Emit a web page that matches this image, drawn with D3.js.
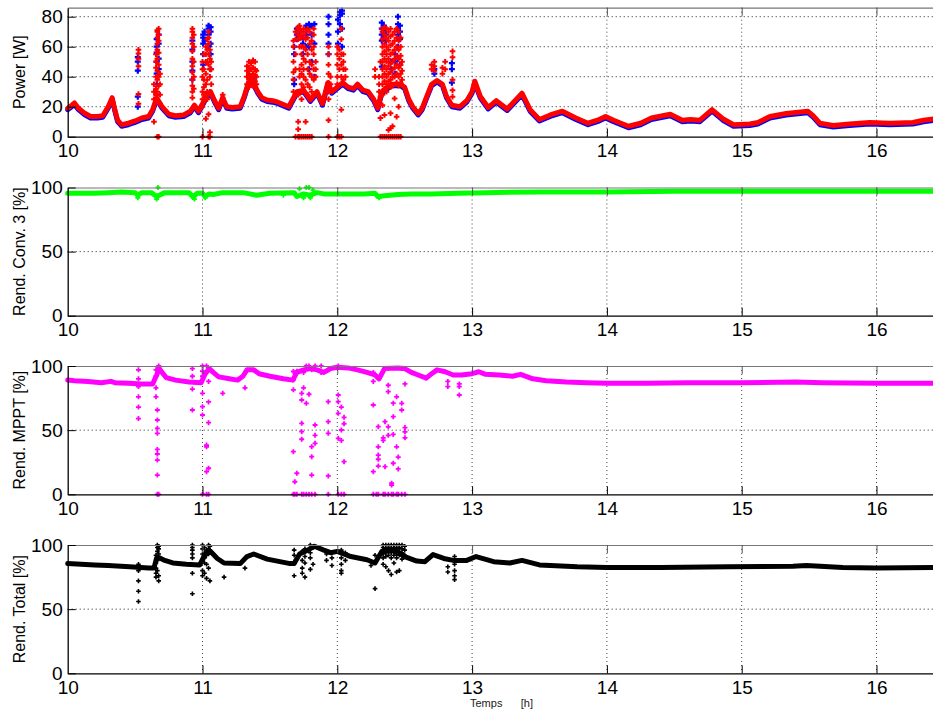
<!DOCTYPE html>
<html><head><meta charset="utf-8">
<script src="https://cdn.jsdelivr.net/npm/d3@7"></script>
<style>
body{margin:0;background:#fff}
svg{display:block}
text{font-family:Arial,"Liberation Sans",Helvetica,sans-serif}
</style>
</head><body>
<svg id="c" width="933" height="714"></svg>
<script>
// ---------------- DATA ----------------
const xTicks = [10, 11, 12, 13, 14, 15, 16];
const powerTicks = [0, 20, 40, 60, 80];
const pctTicks = [0, 50, 100];

const powerTimes = [10.00,10.03,10.05,10.08,10.12,10.17,10.22,10.26,10.30,10.33,10.35,10.37,10.40,10.45,10.50,10.55,10.60,10.63,10.66,10.70,10.75,10.80,10.86,10.91,10.94,10.97,11.00,11.03,11.06,11.09,11.12,11.15,11.18,11.22,11.28,11.31,11.34,11.38,11.41,11.44,11.48,11.52,11.56,11.60,11.64,11.67,11.70,11.75,11.80,11.85,11.89,11.93,11.96,12.00,12.04,12.08,12.12,12.15,12.19,12.23,12.27,12.30,12.33,12.40,12.47,12.50,12.53,12.56,12.60,12.63,12.66,12.70,12.74,12.78,12.81,12.85,12.91,12.96,13.00,13.02,13.06,13.12,13.18,13.26,13.37,13.43,13.50,13.58,13.67,13.77,13.86,13.93,13.99,14.05,14.16,14.25,14.33,14.47,14.56,14.62,14.69,14.78,14.86,14.94,15.06,15.12,15.21,15.33,15.49,15.53,15.58,15.68,15.80,15.95,16.10,16.27,16.35,16.44];
const powerRed = [19,21,22.5,19,16,13.5,13.5,14,20,26,18,11,8,9,10.5,12.5,13.5,18,26,20,15,14,14.5,17,21,17,22,27,30,24,19,26,20,19.5,20,27,36,36,30,26,24.5,24,23,21.5,20,25,30,31,24.5,30,22,36,30,33,36,33,32,35,31,30,25,19,30,35,35,33,25,20,15.5,19,26,35,37.5,35,27,21,20,24,30,37,27,19.5,24,18.5,29,18,11.5,14.5,17,12.5,9,11,13.5,11,7,9,12.5,15,11,11.5,11,18,12,8,8.5,9.5,13.5,15.5,17,14,9,7.5,8.5,9.5,9,9.5,11,12];
const powerBlue = [18,20,21.5,18,15,12.5,12.5,13,19,25,17,10,7,8,9.5,11.5,12.5,17,25,19,14,13,13.5,16,20,16,21,26,29,23,18,25,19,18.5,19,26,35,34.5,29,25,23.5,23,22,20.5,19,24,29,30,23.5,29,21,35,29,32,35,32,31,34,30,29,24,18,29,34,34,32,24,19,14.5,18,25,34,36.5,34,26,20,19,23,29,35.5,26,18.5,23,17.5,28,17,10.5,13.5,16,11.5,8,10,12.5,10,6,8,11.5,14,10,10.5,10,17,11,7,7.5,8.5,12.5,14.5,16,13,8,6.5,7.5,8.5,8,8.5,10,11];

// spike columns: [time, value, value, ...]
const redSpikes = [
  [10.525,58,55.5,52,47,28.5,22],[10.64,10,25,30,35],[10.655,28,32,40,46,50,55],
  [10.665,0,30,38,44,52,58,62,66,70,71],[10.675,0,34,40,48,56,64,68,72],[10.685,22,28,35,42],
  [10.925,72,70,66,62,57,52,47,43,38,34,30,26],[10.935,68,60,50,40,32],
  [11.00,0,20,25,30,40,45,50],[11.01,55,45,38,33,28],[11.025,60,55,50,42,35,28,12],
  [11.035,65,58,50,38,30,25],[11.045,0,15,48,55,62,66,70],[11.055,3,0,30,40,45,52,58],[11.065,35,45,50],
  [11.15,26,28],
  [11.33,35,40,44,47],[11.345,33,38,42,46,50],[11.36,35,40,45,49],[11.375,34,38,42,46,51],[11.39,33,37,41,45,50],[11.40,35,40,44],
  [11.675,30,38,43,50,60,64],[11.69,0,45,55,65,70],[11.71,0,10,5,70,72,73,68,65,28],[11.72,0,72,74,66,60,40,45],
  [11.735,0,70,66,60,55,48,42,35,30,25],[11.75,0,72,68,60,52,45,40,33],[11.765,0,10,70,65,58,50,38],
  [11.78,0,72,66,55,45,35,28],[11.795,0,70,62,50,42,33],[11.81,0,64,58,48,40,30],[11.825,72,68,60,55,45,38],[11.84,50,45,40],
  [11.935,0,11,60,55,48,42,36,30,25],[11.95,40,35],
  [12.00,0,60,55,48,40,35],[12.015,0,58,52,45],[12.03,0,18,72,65,55,48,40],[12.045,45,50,55,38],[12.06,40,45],
  [12.28,45,40],[12.31,35,40,30],[12.32,0,50,26.7,12.4],
  [12.335,0,72,70,65,60,55,50,45,40,35,28,21],[12.35,0,73,68,62,57,52,47,42,37,32,14.5],
  [12.365,0,72,66,60,55,50,45,40,35,30],[12.38,0,4.5,70,64,58,52,47,42,37],
  [12.395,0,5.6,15.6,72,67,61,55,49,43,38,33],[12.41,0,7,68,62,56,50,45,40,34],
  [12.425,0,25.5,70,64,58,52,46,40],[12.44,0,13.3,72,66,60,54,48,42,36],
  [12.455,0,20,70,64,58,52,46,40,34],[12.47,0,66,60,54,48,42,36],[12.48,50,44,38],
  [12.70,45,48],[12.72,47,50,44],[12.78,42,46],[12.80,45,50],[12.855,57,53,38,31,26.7]
];
const blueSpikes = [
  [10.52,53,50,44,26.7,20],[10.66,28,35,42,50,56,60,65],[10.675,45,52,62,68],
  [10.925,64,58,50,44,38],[11.005,68,66,62,55,48],[11.015,70,64],
  [11.045,72,74,68,60],[11.06,73,70,62,55,45],[11.345,36,40],[11.38,35,38],
  [11.68,60,55,38,35],[11.70,72,68,65],[11.72,70,66],[11.745,66,62,55],
  [11.77,72,74,68,60],[11.79,75,73,60,45],[11.81,74,68,50],[11.83,75,62,40],
  [11.935,80,75,68,62,55],[12.005,78,70,62],[12.02,83,81,75],[12.035,84,82,72,60],
  [12.33,76,72,68,64,46.7],[12.345,74,70,66],[12.36,72,68,64],[12.40,45,50],[12.43,50,55,42],
  [12.45,80,75,72,68,60,52],[12.465,74,70,65,48],[12.72,42,45],[12.85,49,45,36]
];

const convTimes = [10.00,10.20,10.30,10.40,10.50,10.52,10.55,10.62,10.66,10.68,10.72,10.90,10.93,10.96,11.00,11.02,11.05,11.08,11.15,11.30,11.35,11.40,11.50,11.68,11.70,11.75,11.80,11.85,11.90,12.00,12.10,12.20,12.28,12.30,12.35,12.45,12.55,12.70,12.90,13.10,13.50,14.00,14.50,15.00,15.50,16.00,16.44];
const convValues = [95.5,95.5,96,96.5,96,94,96,96,93,94,96,96,92.5,95.5,95.5,93,95,94.5,96,96,95,94,95.5,96,93,95,94,96,95,95,95,95,95.5,93,93.5,94.5,95,95,95.5,96,96.5,96.5,97,97,97,97,97];
const convOutliers = [[10.52,92],[10.66,91],[10.67,100],[10.94,91],[11.02,92],[11.60,94],[11.72,99],[11.75,92],[11.77,100],[11.79,100],[11.80,92],[11.82,98],[12.31,92]];

const mpptTimes = [10.00,10.05,10.15,10.25,10.32,10.35,10.45,10.55,10.63,10.66,10.68,10.70,10.73,10.80,10.90,10.99,11.02,11.05,11.08,11.12,11.20,11.26,11.30,11.33,11.38,11.42,11.50,11.60,11.67,11.70,11.75,11.80,11.85,11.90,11.95,12.00,12.08,12.15,12.22,12.28,12.31,12.35,12.45,12.50,12.55,12.60,12.66,12.70,12.74,12.80,12.86,12.92,13.00,13.05,13.10,13.20,13.30,13.36,13.45,13.55,13.70,13.85,14.00,14.30,14.60,15.00,15.40,15.60,16.00,16.44];
const mpptValues = [89,88.5,88,87,88,87,86.5,86,86,93,98,95,91,89,87.5,87,94,98,95,91.5,90,89,92,97,97,94,92,90,89,95,97,98,97,95,98,99,98.5,97,95,93,90,98,98.5,98,95,93,90.5,94,97,95.5,93,93,94,95.5,93.5,93,92,93.5,90,88.5,87.5,87,86.5,86.5,87,87,87.5,87,86.5,86.5];
const mpptOutliers = [
  [10.525,97,90,84,76,68,59],[10.655,97,92,83,76],[10.665,0,65.7,57.9,51.4,47.5,35,31.4,26.7,15],[10.675,0,100,99],
  [10.925,98,92,82,65.7],[11.00,0,100,96,92,78.7,68.3,61.8],[11.03,0,38.4,37,17.6,100,95],[11.045,0,55.8,20.3,88,72],
  [11.15,78.7],[11.315,83],
  [11.674,95.7,89.2,81.4,33.2,0],[11.685,9.8,0],[11.70,16.4,0,96],[11.736,42.9,48.8,55.3,73.5,78.7,0],
  [11.75,83,95,0],[11.77,70.9,100,0],[11.79,100,78,0],[11.81,15,29.3,37.1,0,97],[11.835,39.7,54,46,0,100],
  [11.88,100,95],[11.933,56.6,47.5,14.3,72.2,97,0],[12.007,77.4,72.2,63.1,43.6,0,100],[12.03,68,50.1,42,0],
  [12.05,60,55,25.4,0],[12.267,69.6,17.6,0,95,88],[12.29,0],[12.304,52.7,37,30.6,27.3,22,0],
  [12.341,44,42,0],[12.354,21.5,56.6,0],[12.378,52.6,46,0,85,80],[12.403,7.2,8.6,0],
  [12.415,24.2,46.7,60.5,71,0],[12.44,76,37,0],[12.452,29,19.8,0],[12.478,65.7,70.9,0,98],[12.502,48.7,52,44,86,0],
  [12.82,84,88],[12.905,77.4,84,86]
];

const totalTimes = [10.00,10.10,10.20,10.30,10.46,10.60,10.64,10.66,10.68,10.72,10.78,10.88,10.98,11.02,11.06,11.11,11.16,11.28,11.33,11.38,11.48,11.65,11.68,11.72,11.78,11.83,11.90,11.95,12.00,12.10,12.22,12.28,12.33,12.42,12.50,12.59,12.65,12.71,12.79,12.86,12.96,13.03,13.16,13.28,13.37,13.50,13.78,14.00,14.40,14.90,15.38,15.48,15.75,16.00,16.44];
const totalValues = [85.5,85,84.5,84,83,82,82,90,90,88,86,85,84.5,93,95,89.5,86,85.5,91,93,89,85.5,85.5,93,96,99,96,94,95,91,88.5,86,95,96,91,87.5,87,92.5,89.5,88,88,91,87,86,88,84.5,83,82.5,82.5,83,83.5,84,82.5,82,82.5];
const totalOutliers = [
  [10.525,85,80,72,64,56],[10.655,75,78,82,86,92],[10.665,95,98,100,88,80],[10.675,97,99,93,76,72],
  [10.925,100,98,96,93,90,78,62],[11.00,100,97,93,88,80,76],[11.015,98,94,90,86,78],[11.03,96,92,85,74],
  [11.045,100,97,93,82],[11.055,99,95,72],[11.16,75],[11.315,82],
  [11.68,96,92,87,76],[11.74,95,88,82,78],[11.76,97,91,86,75],[11.80,100,94,90,81],[11.82,98,85],
  [11.92,93,88],[11.96,90,84],[12.03,96,90,85,80,78],[12.06,94,88],[12.25,84],[12.28,92,66],
  [12.34,100,98,96,93,90,85],[12.36,100,97,94,91,83],[12.38,100,98,95,92,80],[12.40,100,97,94,90,77],
  [12.42,100,98,95,92,86],[12.44,100,97,93,90,79],[12.46,100,98,95,92,80],[12.48,100,97,94,89],[12.50,99,96,92],
  [12.82,83,79],[12.87,91,85,80,76,73]
];

// ---------------- CHART ----------------
const svg = d3.select('#c');
const x = d3.scaleLinear().domain([10, 16.44]).range([67.7, 935.8]);

const panels = [
  {top: 7.7,  bottom: 136.7, ymax: 86,  ticks: powerTicks, label: 'Power [W]'},
  {top: 187.5, bottom: 315.7, ymax: 100, ticks: pctTicks, label: 'Rend. Conv. 3 [%]'},
  {top: 366,  bottom: 494.3, ymax: 100, ticks: pctTicks, label: 'Rend. MPPT [%]'},
  {top: 545,  bottom: 673.3, ymax: 100, ticks: pctTicks, label: 'Rend. Total [%]'}
];

const crossPath = r => `M${-r},0H${r}M0,${-r}V${r}`;

function flatten(cols) {
  const pts = [];
  cols.forEach(c => { for (let i = 1; i < c.length; i++) pts.push([c[0], c[i]]); });
  return pts;
}

panels.forEach(p => {
  p.y = d3.scaleLinear().domain([0, p.ymax]).range([p.bottom, p.top]);
  const g = svg.append('g');
  g.selectAll(null).data(xTicks.filter(t => t > 10)).join('line')
    .attr('x1', d => x(d)).attr('x2', d => x(d))
    .attr('y1', p.top).attr('y2', p.bottom)
    .attr('stroke', '#444').attr('stroke-width', 1).attr('stroke-dasharray', '1,3');
  g.selectAll(null).data(p.ticks.filter(v => v > 0 && v < p.ymax)).join('line')
    .attr('x1', x.range()[0]).attr('x2', x.range()[1])
    .attr('y1', d => p.y(d)).attr('y2', d => p.y(d))
    .attr('stroke', '#222').attr('stroke-width', 1).attr('stroke-dasharray', '1,3');
  p.g = g;
});

function baseline(p, times, vals, color, w) {
  p.g.append('path').datum(d3.zip(times, vals))
    .attr('fill', 'none').attr('stroke', color).attr('stroke-width', w)
    .attr('stroke-linejoin', 'round').attr('stroke-linecap', 'round')
    .attr('d', d3.line().x(d => x(d[0])).y(d => p.y(d[1])));
}
function markers(p, pts, color, r, w) {
  p.g.append('g').selectAll('path').data(pts).join('path')
    .attr('transform', d => `translate(${x(d[0])},${p.y(d[1])})`)
    .attr('d', crossPath(r)).attr('stroke', color).attr('stroke-width', w).attr('fill', 'none');
}

baseline(panels[0], powerTimes, powerBlue, '#0000ff', 5);
markers(panels[0], flatten(blueSpikes), '#0000ff', 3, 2.2);
baseline(panels[0], powerTimes, powerRed, '#ff0000', 5);
markers(panels[0], flatten(redSpikes), '#ff0000', 2.8, 2);

baseline(panels[1], convTimes, convValues, '#00ff00', 5);
markers(panels[1], convOutliers, '#00ff00', 2.5, 1.8);

baseline(panels[2], mpptTimes, mpptValues, '#ff00ff', 5);
markers(panels[2], flatten(mpptOutliers), '#ff00ff', 2.5, 1.8);

baseline(panels[3], totalTimes, totalValues, '#000000', 5);
markers(panels[3], flatten(totalOutliers), '#000000', 2.3, 1.6);

panels.forEach(p => {
  const gb = svg.append('g').attr('transform', `translate(0,${p.bottom})`)
    .call(d3.axisBottom(x).tickValues(xTicks).tickFormat(d3.format('d')).tickSize(-8).tickSizeOuter(0).tickPadding(7));
  const gt = svg.append('g').attr('transform', `translate(0,${p.top})`)
    .call(d3.axisTop(x).tickValues(xTicks).tickSize(-8).tickSizeOuter(0).tickFormat(''));
  const gl = svg.append('g').attr('transform', `translate(${x.range()[0]},0)`)
    .call(d3.axisLeft(p.y).tickValues(p.ticks).tickFormat(d3.format('d')).tickSize(-8).tickSizeOuter(0).tickPadding(5));
  [gb, gl].forEach(a => {
    a.select('.domain').attr('stroke', '#000').attr('stroke-width', 1.3);
    a.selectAll('.tick line').attr('stroke', '#000');
    a.selectAll('text').attr('font-size', 19).attr('fill', '#000')
      .attr('font-family', 'Arial,"Liberation Sans",Helvetica,sans-serif');
  });
  gt.select('.domain').attr('stroke', '#777').attr('stroke-width', 1.2);
  gt.selectAll('.tick line').attr('stroke', '#555');
  gt.selectAll('.tick').filter(d => d === 10).remove();
  gb.selectAll('.tick line').filter(d => d === 10).remove();
  svg.append('text')
    .attr('transform', `translate(25,${(p.top + p.bottom) / 2}) rotate(-90)`)
    .attr('text-anchor', 'middle').attr('font-size', 16).attr('fill', '#000')
    .text(p.label);
});

svg.append('text').attr('x', 470).attr('y', 707).attr('font-size', 11).attr('fill', '#222')
  .style('white-space', 'pre').text('Temps      [h]');
</script>
</body></html>
